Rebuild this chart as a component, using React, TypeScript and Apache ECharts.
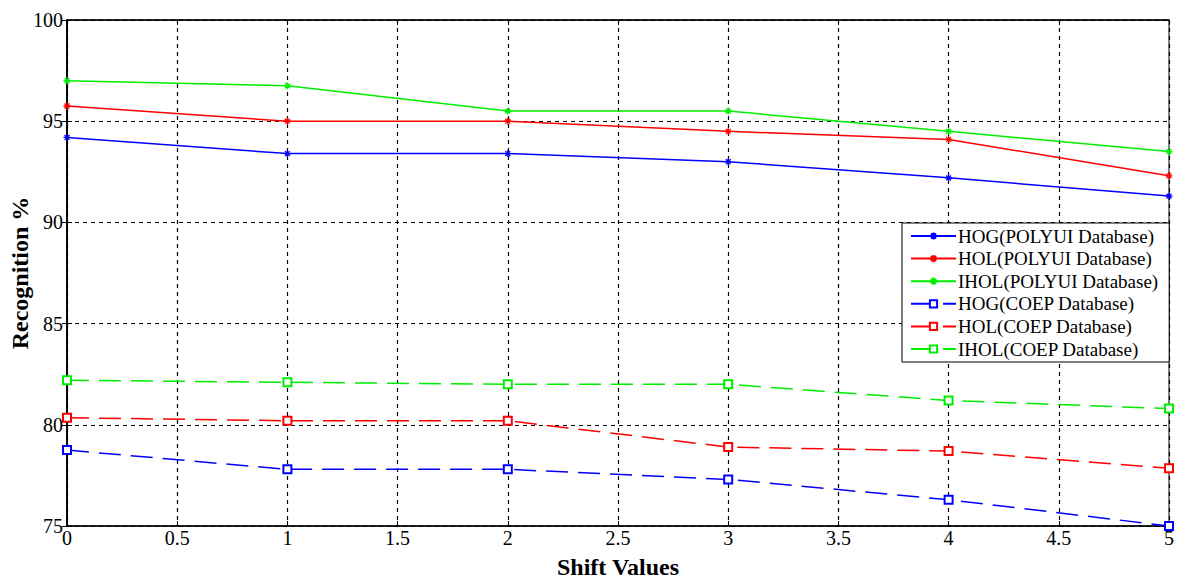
import React, { useEffect, useRef } from "react";
import * as echarts from "echarts";

const shiftValues = [0, 1, 2, 3, 4, 5];
const hogPolyui = [94.2, 93.4, 93.4, 93.0, 92.2, 91.3];
const holPolyui = [95.75, 95.0, 95.0, 94.5, 94.1, 92.3];
const iholPolyui = [97.0, 96.75, 95.5, 95.5, 94.5, 93.5];
const hogCoep = [78.75, 77.8, 77.8, 77.3, 76.3, 75.0];
const holCoep = [80.35, 80.2, 80.2, 78.9, 78.7, 77.85];
const iholCoep = [82.2, 82.1, 82.0, 82.0, 81.2, 80.8];

const seriesNames = [
  "HOG(POLYUI Database)",
  "HOL(POLYUI Database)",
  "IHOL(POLYUI Database)",
  "HOG(COEP Database)",
  "HOL(COEP Database)",
  "IHOL(COEP Database)",
];
const seriesValues = [hogPolyui, holPolyui, iholPolyui, hogCoep, holCoep, iholCoep];
const seriesColors = ["#0000ff", "#ff0000", "#00ee00", "#0000ff", "#ff0000", "#00ee00"];

const FONT = "Liberation Serif, serif";
const STAR = "path://M0,5L10,5M5,0L5,10M1.5,1.5L8.5,8.5M8.5,1.5L1.5,8.5";

export default function App() {
  const ref = useRef<HTMLDivElement>(null);
  useEffect(() => {
    if (!ref.current) return;
    const chart = echarts.init(ref.current, null, { renderer: "svg" });
    const series = seriesNames.map((name, i) => {
      const coep = i >= 3;
      return {
        name,
        type: "line",
        data: shiftValues.map((x, j) => [x, seriesValues[i][j]]),
        symbol: coep ? "emptyRect" : STAR,
        symbolSize: coep ? 8 : 7,
        showAllSymbol: true,
        lineStyle: {
          color: seriesColors[i],
          width: 1.5,
          type: coep ? [22, 10] : "solid",
        },
        itemStyle: {
          color: seriesColors[i],
          borderColor: seriesColors[i],
          borderWidth: 1.3,
        },
        z: 3,
      };
    });
    const gridLine = { show: true, lineStyle: { color: "#000", width: 1.2, type: [4, 4] } };
    chart.setOption({
      animation: false,
      backgroundColor: "#ffffff",
      grid: {
        left: 67,
        right: 9,
        top: 20,
        bottom: 53,
        containLabel: false,
        outerBoundsMode: "none",
        show: true,
        borderColor: "#000",
        borderWidth: 1,
        backgroundColor: "transparent",
      },
      legend: {
        orient: "vertical",
        left: 902,
        top: 223,
        padding: [3.5, 11, 3.5, 8],
        itemWidth: 45,
        itemHeight: 9,
        itemGap: 3.6,
        backgroundColor: "#ffffff",
        borderColor: "#000",
        borderWidth: 1,
        borderRadius: 0,
        textStyle: { fontFamily: FONT, fontSize: 19, lineHeight: 19, color: "#000", padding: [0, 0, 0, -3] },
        data: seriesNames,
      },
      xAxis: [
        {
          type: "value",
          min: 0,
          max: 5,
          interval: 0.5,
          name: "Shift Values",
          nameLocation: "middle",
          nameGap: 29,
          nameMoveOverlap: false,
          nameTextStyle: { fontFamily: FONT, fontSize: 24, fontWeight: "bold", color: "#000" },
          axisLine: { show: true, lineStyle: { color: "#000", width: 1.5 } },
          axisTick: { show: true, inside: true, length: 5, lineStyle: { color: "#000" } },
          axisLabel: { fontFamily: FONT, fontSize: 20, color: "#000", margin: 2 },
          splitLine: gridLine,
        },
        {
          type: "value",
          position: "top",
          min: 0,
          max: 5,
          interval: 0.5,
          axisLine: { show: true, lineStyle: { color: "#000", width: 1.5 } },
          axisTick: { show: true, inside: true, length: 5, lineStyle: { color: "#000" } },
          axisLabel: { show: false },
          splitLine: { show: false },
        },
      ],
      yAxis: [
        {
          type: "value",
          min: 75,
          max: 100,
          interval: 5,
          name: "Recognition %",
          nameLocation: "middle",
          nameGap: 35,
          nameMoveOverlap: false,
          nameTextStyle: { fontFamily: FONT, fontSize: 24, fontWeight: "bold", color: "#000" },
          axisLine: { show: true, lineStyle: { color: "#000", width: 1.5 } },
          axisTick: { show: true, inside: true, length: 5, lineStyle: { color: "#000" } },
          axisLabel: { fontFamily: FONT, fontSize: 20, color: "#000", margin: 4 },
          splitLine: gridLine,
        },
        {
          type: "value",
          position: "right",
          min: 75,
          max: 100,
          interval: 5,
          axisLine: { show: true, lineStyle: { color: "#000", width: 1.5 } },
          axisTick: { show: true, inside: true, length: 5, lineStyle: { color: "#000" } },
          axisLabel: { show: false },
          splitLine: { show: false },
        },
      ],
      series,
    });
    return () => chart.dispose();
  }, []);
  return (
    <div
      ref={ref}
      style={{ position: "absolute", left: 0, top: 0, width: 1178, height: 579 }}
    />
  );
}
